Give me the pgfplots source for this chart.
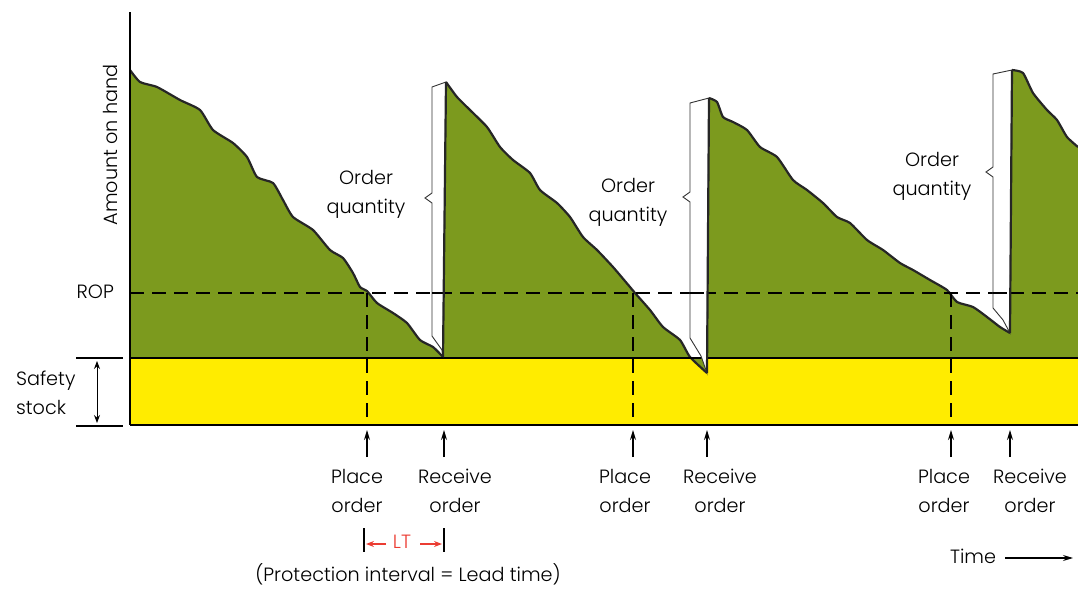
\documentclass[border=0pt]{standalone}
\usepackage{pgfplots}
\pgfplotsset{compat=1.18}
\usepackage{fontspec}
\setmainfont{Poppins Light}
\usetikzlibrary{arrows.meta}
\definecolor{stockgreen}{RGB}{124,154,30}
\definecolor{safeyellow}{RGB}{255,236,0}
\definecolor{ltred}{RGB}{235,60,50}
\begin{document}
\begin{tikzpicture}[font=\fontsize{9.6}{14.5}\selectfont]
\begin{axis}[width=539pt, height=294.5pt, scale only axis,
  xmin=0, xmax=1078, ymin=0, ymax=589, y dir=reverse,
  hide axis, clip=false]
\coordinate (BL) at (axis cs:0,589);
\coordinate (TR) at (axis cs:1078,0);
% safety stock band
\addplot[fill=safeyellow, draw=none] coordinates {(130,358) (1078,358) (1078,425) (130,425) (130,358)};
% inventory (amount on hand)
\addplot[fill=stockgreen, draw=none] coordinates {
(130,70) (140,82) (157,87) (180,100) (200,110) (213,130) (233,143) (247,157) (257,177) (273,183)
(283,200) (293,217) (313,230) (330,250) (343,258) (353,273) (360,287) (367,291) (377,303) (393,313)
(407,323) (420,340) (433,347) (443,357)
(446,82) (457,97) (470,110) (487,127) (500,147) (513,160) (530,173) (540,190) (557,203) (570,217)
(583,237) (597,250) (613,267) (630,287) (635,293) (650,310) (663,327) (680,340) (690,357) (707,373)
(709,98) (717,102) (723,117) (733,122) (747,130) (760,147) (777,157) (793,180) (807,190) (823,203)
(837,217) (850,223) (867,240) (883,250) (900,263) (913,270) (930,280) (947,290) (957,302) (973,307)
(987,317) (1000,327) (1010,333)
(1012,70) (1023,73) (1033,93) (1047,110) (1057,120) (1067,137) (1078,147)
(1078,358) (130,358) (130,70)};
\addplot[black!85, line width=1.1pt, line join=round, smooth, tension=0.35] coordinates {
(130,70) (140,82) (157,87) (180,100) (200,110) (213,130) (233,143) (247,157) (257,177) (273,183)
(283,200) (293,217) (313,230) (330,250) (343,258) (353,273) (360,287) (367,291) (377,303) (393,313)
(407,323) (420,340) (433,347) (443,357)};
\addplot[black!85, line width=1.1pt, line join=round, smooth, tension=0.35] coordinates {
(446,82) (457,97) (470,110) (487,127) (500,147) (513,160) (530,173) (540,190) (557,203) (570,217)
(583,237) (597,250) (613,267) (630,287) (635,293) (650,310) (663,327) (680,340) (690,357) (707,373)};
\addplot[black!85, line width=1.1pt, line join=round, smooth, tension=0.35] coordinates {
(709,98) (717,102) (723,117) (733,122) (747,130) (760,147) (777,157) (793,180) (807,190) (823,203)
(837,217) (850,223) (867,240) (883,250) (900,263) (913,270) (930,280) (947,290) (957,302) (973,307)
(987,317) (1000,327) (1010,333)};
\addplot[black!85, line width=1.1pt, line join=round, smooth, tension=0.35] coordinates {
(1012,70) (1023,73) (1033,93) (1047,110) (1057,120) (1067,137) (1078,147)};
% frame lines
\draw[black, line width=0.8pt] (axis cs:130,12) -- (axis cs:130,425);
\draw[black, line width=0.7pt] (axis cs:130,358) -- (axis cs:1078,358);
\draw[black, line width=0.8pt] (axis cs:130,425) -- (axis cs:1078,425);
% ROP
\draw[black, line width=0.6pt, dash pattern=on 7pt off 4pt] (axis cs:130,293) -- (axis cs:1078,293);
\draw[black, line width=0.6pt, dash pattern=on 7pt off 4pt] (axis cs:367,293) -- (axis cs:367,425);
\draw[black, line width=0.6pt, dash pattern=on 7pt off 4pt] (axis cs:633,293) -- (axis cs:633,425);
\draw[black, line width=0.6pt, dash pattern=on 7pt off 4pt] (axis cs:951,293) -- (axis cs:951,425);
% order-quantity braces
\draw[black!80, line width=0.45pt, fill=white] (axis cs:446,82) -- (axis cs:432,87) -- (axis cs:432,193) -- (axis cs:425,198) -- (axis cs:432,203) -- (axis cs:432,336) -- (axis cs:442,350) -- (axis cs:443,357) -- cycle;
\draw[black!80, line width=0.45pt, fill=white] (axis cs:709,98) -- (axis cs:690,103) -- (axis cs:690,192) -- (axis cs:683,197) -- (axis cs:690,202) -- (axis cs:690,338) -- (axis cs:701,356) -- (axis cs:707,373) -- cycle;
\draw[black!80, line width=0.45pt, fill=white] (axis cs:1012,70) -- (axis cs:993,74) -- (axis cs:993,167) -- (axis cs:986,172) -- (axis cs:993,177) -- (axis cs:993,308) -- (axis cs:1003,320) -- (axis cs:1010,333) -- cycle;
\draw[black, line width=0.6pt, dash pattern=on 7pt off 4pt] (axis cs:432,293) -- (axis cs:446,293);
\draw[black, line width=0.6pt, dash pattern=on 7pt off 4pt] (axis cs:690,293) -- (axis cs:708,293);
\draw[black, line width=0.6pt, dash pattern=on 7pt off 4pt] (axis cs:993,293) -- (axis cs:1011,293);
\draw[black!85, line width=1.1pt] (axis cs:443,357) -- (axis cs:446,82);
\draw[black!85, line width=1.1pt] (axis cs:707,373) -- (axis cs:709,98);
\draw[black!85, line width=1.1pt] (axis cs:1010,333) -- (axis cs:1012,70);
% texts
\node[rotate=90, anchor=center] at (axis cs:110,145) {Amount on hand};
\node[anchor=east] at (axis cs:121,292) {ROP};
\node[anchor=west, align=left] at (axis cs:9,393) {Safety\\stock};
\draw[black, line width=0.6pt] (axis cs:76,358) -- (axis cs:123,358);
\draw[black, line width=0.6pt] (axis cs:76,426) -- (axis cs:123,426);
\draw[black, line width=0.5pt, {Stealth[length=4pt,width=3pt]}-{Stealth[length=4pt,width=3pt]}] (axis cs:97,361) -- (axis cs:97,423);
\node[align=center] at (axis cs:366,194) {Order\\quantity};
\node[align=center] at (axis cs:628,202) {Order\\quantity};
\node[align=center] at (axis cs:932,176) {Order\\quantity};
% place / receive arrows
\pgfplotsinvokeforeach{367,444,633,707,951,1010}{
  \draw[black, line width=0.6pt, -{Stealth[length=5pt,width=3pt]}] (axis cs:#1,457) -- (axis cs:#1,430);
}
\node[align=center] at (axis cs:357,491) {Place\\order};
\node[align=center] at (axis cs:455,491) {Receive\\order};
\node[align=center] at (axis cs:625,491) {Place\\order};
\node[align=center] at (axis cs:720,491) {Receive\\order};
\node[align=center] at (axis cs:944,491) {Place\\order};
\node[align=center] at (axis cs:1030,491) {Receive\\order};
% LT
\draw[black, line width=0.6pt] (axis cs:364,528) -- (axis cs:364,552);
\draw[black, line width=0.6pt] (axis cs:444,528) -- (axis cs:444,552);
\node[text=ltred] at (axis cs:402,542) {LT};
\draw[ltred, line width=0.6pt, -{Stealth[length=4pt,width=3pt]}] (axis cs:386,544) -- (axis cs:366,544);
\draw[ltred, line width=0.6pt, -{Stealth[length=4pt,width=3pt]}] (axis cs:420,544) -- (axis cs:442,544);
\node at (axis cs:408,574) {(Protection interval = Lead time)};
\node[anchor=west] at (axis cs:943,556) {Time};
\draw[black, line width=0.6pt, -{Stealth[length=5pt,width=3pt]}] (axis cs:1005,558) -- (axis cs:1073,558);
\end{axis}
\pgfresetboundingbox
\path (BL) rectangle (TR);
\end{tikzpicture}
\end{document}
